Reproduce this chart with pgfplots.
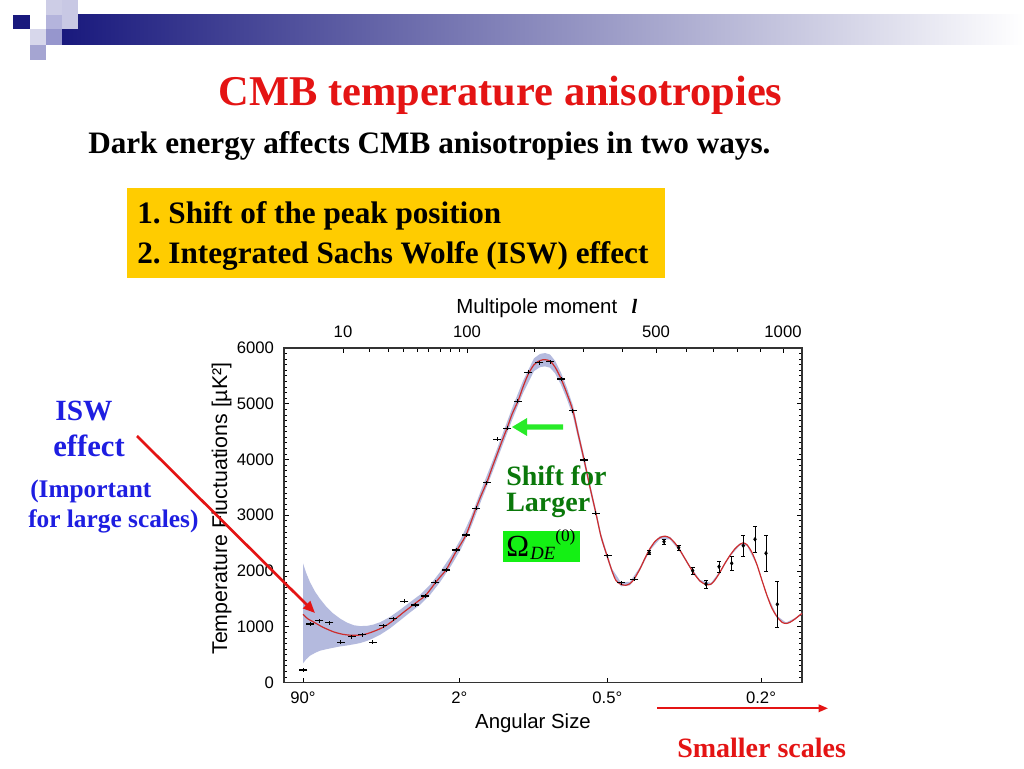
\documentclass[border=0pt]{standalone}
\usepackage{fontspec}
\setmainfont{Liberation Serif}
\newfontfamily\sans{Liberation Sans}
\usepackage{pgfplots}
\pgfplotsset{compat=1.18}
\usetikzlibrary{arrows.meta}
\definecolor{slidered}{RGB}{228,20,20}
\definecolor{iswblue}{RGB}{30,30,225}
\definecolor{darkgreen}{RGB}{10,120,10}
\definecolor{boxyellow}{RGB}{255,204,0}
\definecolor{boxgreen}{RGB}{20,240,20}
\definecolor{arrowgreen}{RGB}{40,235,40}
\definecolor{bandblue}{RGB}{180,186,222}
\definecolor{curvered}{RGB}{205,45,45}
\definecolor{navybar}{RGB}{25,25,125}
\definecolor{sqA}{RGB}{205,205,230}
\definecolor{sqB}{RGB}{200,200,228}
\definecolor{sqC}{RGB}{180,180,220}
\definecolor{sqD}{RGB}{215,215,235}
\definecolor{sqE}{RGB}{150,150,205}
\definecolor{sqF}{RGB}{165,165,210}
\frenchspacing
\begin{document}
\begin{tikzpicture}
\begin{scope}[x=0.75pt,y=0.75pt]
\path[use as bounding box, fill=white] (0,0) rectangle (1024,768);
\shade[left color=navybar, right color=white] (62,753) rectangle (1024,723);
\fill[navybar] (13,753) rectangle (30,739);
\fill[sqA] (46,768) rectangle (62,753);
\fill[sqB] (62,768) rectangle (78,739);
\fill[sqC] (46,753) rectangle (62,739);
\fill[sqD] (30,739) rectangle (46,723);
\fill[sqE] (46,739) rectangle (62,723);
\fill[sqF] (30,723) rectangle (46,708);
\end{scope}

\begin{axis}[
  at={(213pt,64.125pt)}, anchor=south west, scale only axis,
  width=388.5pt, height=250.875pt,
  xmin=284, xmax=802, ymin=0, ymax=6000,
  axis line style={black!80, line width=0.9pt},
  every tick/.style={black, line width=0.6pt},
  tick align=inside,
  major tick length=3.75pt, minor tick length=2pt,
  xtick={303,459.3,607.3,761},
  xticklabels={90°,2°,0.5°,0.2°},
  xtick pos=left, xticklabel pos=left,
  ytick={0,1000,2000,3000,4000,5000,6000},
  minor y tick num=9,
  ytick pos=both, yticklabel pos=left,
  tick label style={font=\fontsize{12.5pt}{14pt}\selectfont\sans},
  /pgf/number format/assume math mode=true,
  /pgf/number format/1000 sep={},
  scaled y ticks=false,
  xticklabel style={yshift=-3.5pt},
  yticklabel style={xshift=-4pt},
]
\addplot[fill=bandblue, draw=none] coordinates {(303,2138)(306,1973)(310,1800)(315,1631)(320,1500)(326,1366)(333,1242)(340,1147)(347,1074)(354,1026)(360,1012)(367,1016)(373,1037)(380,1080)(390,1176)(400,1303)(410,1440)(420,1574)(430,1750)(440,1980)(451,2270)(461,2582)(471,2974)(481,3446)(492,3948)(502,4430)(512,4915)(523,5410)(534,5815)(540,5893)(545,5910)(550,5883)(555,5772)(561,5558)(567,5282)(573,4965)(578,4555)(584,4078)(590,3570)(596,3090)(601,2672)(607,2320)(612,2040)(621,1795)(630,1807)(640,2070)(650,2427)(660,2625)(670,2614)(680,2392)(690,2091)(700,1840)(711,1785)(720,1998)(730,2298)(740,2497)(747,2487)(757,2126)(767,1576)(777,1195)(786,1075)(795,1155)(802,1255)
(802,1225)(795,1125)(786,1045)(777,1165)(767,1544)(757,2094)(747,2453)(740,2463)(730,2262)(720,1962)(711,1745)(700,1800)(690,2049)(680,2348)(670,2566)(660,2575)(650,2373)(640,2010)(630,1743)(621,1725)(612,1960)(607,2230)(601,2568)(596,2970)(590,3430)(584,3922)(578,4385)(573,4775)(567,5078)(561,5342)(555,5548)(550,5647)(545,5670)(540,5657)(534,5585)(523,5190)(512,4705)(502,4230)(492,3752)(481,3254)(471,2786)(461,2398)(451,2090)(440,1800)(430,1570)(420,1394)(410,1256)(400,1113)(390,971)(380,855)(373,792)(367,746)(360,707)(354,686)(347,664)(340,647)(333,622)(326,596)(320,570)(315,531)(310,480)(306,413)(303,343)};
\addplot[curvered, line width=0.9pt, smooth] coordinates {(303,1223)(308,1140)(313,1091)(318,1040)(323,990)(328,950)(333,912)(338,885)(343,864)(348,852)(353,846)(358,848)(363,858)(368,880)(373,912)(378,948)(383,990)(388,1045)(393,1109)(398,1178)(403,1252)(408,1320)(413,1390)(419,1470)(425,1552)(430,1660)(435,1780)(440,1890)(446,2018)(451,2180)(456,2347)(461,2490)(466,2646)(471,2880)(476,3125)(481,3350)(487,3600)(492,3850)(497,4090)(502,4330)(507,4560)(512,4810)(518,5050)(523,5300)(528,5520)(534,5700)(540,5775)(545,5790)(550,5765)(555,5660)(561,5450)(567,5180)(573,4870)(578,4470)(584,4000)(590,3500)(596,3030)(601,2620)(607,2275)(612,2000)(616,1830)(621,1760)(626,1745)(630,1775)(634,1850)(640,2040)(645,2230)(650,2400)(655,2530)(660,2600)(665,2625)(670,2590)(675,2500)(680,2370)(685,2220)(690,2070)(695,1930)(700,1820)(706,1755)(711,1765)(715,1840)(720,1980)(725,2140)(730,2280)(735,2400)(740,2480)(743,2505)(747,2470)(752,2330)(757,2110)(762,1830)(767,1560)(772,1330)(777,1180)(782,1080)(786,1060)(790,1080)(795,1140)(800,1211)(802,1240)};
\addplot[black, only marks, mark=-, mark size=3pt, mark options={line width=1.1pt},
  error bars/.cd, y dir=both, y explicit, error mark=none, error bar style={line width=0.6pt}]
  coordinates {(303.3,224)+-(0,35) (310,1050)+-(0,35) (319.3,1109)+-(0,35) (329.3,1073)+-(0,35) (340.7,721)+-(0,35) (351.7,822)+-(0,35) (362.3,858)+-(0,35) (372.7,721)+-(0,35) (383.3,1019)+-(0,35) (393.3,1145)+-(0,35) (404.3,1457)+-(0,35) (415,1390)+-(0,35) (425.3,1552)+-(0,35) (435.3,1798)+-(0,35) (446,2018)+-(0,35) (456,2377)+-(0,35) (466,2646)+-(0,35) (476,3125)+-(0,35) (486.7,3585)+-(0,35) (497.3,4363)+-(0,35) (507.3,4560)+-(0,35) (517.7,5045)+-(0,35) (528.3,5565)+-(0,35) (539.3,5737)+-(0,35) (550,5755)+-(0,35) (561,5445)+-(0,35) (572.7,4876)+-(0,35) (584,3992)+-(0,35) (595.7,3035)+-(0,35) (607.5,2275)+-(0,35) (621,1791)+-(0,35) (634.3,1851)+-(0,35)};
\addplot[black, only marks, mark=diamond*, mark size=1.4pt,
  error bars/.cd, y dir=both, y explicit, error mark=-, error bar style={line width=0.6pt}]
  coordinates {(649.3,2329)+-(0,35) (664,2526)+-(0,40) (678.7,2418)+-(0,45) (692.7,2006)+-(0,60) (706,1767)+-(0,75) (719,2078)+-(0,105) (731.7,2138)+-(0,130) (743.3,2454)+-(0,185) (755,2569)+-(0,240) (766,2318)+-(0,317) (777.3,1403)+-(0,410)};
\end{axis}

\begin{axis}[
  at={(213pt,64.125pt)}, anchor=south west, scale only axis,
  width=388.5pt, height=250.875pt,
  xmin=284, xmax=802, ymin=0, ymax=6000,
  hide y axis,
  axis line style={black!80, line width=0.9pt},
  every tick/.style={black, line width=0.6pt},
  tick align=inside,
  major tick length=3.75pt, minor tick length=3pt,
  xtick={343,467,656,783}, xticklabels={10,100,500,1000},
  minor xtick={369,388,403,417,428,440,450,459,534,583,622,686,713,737,760},
  xtick pos=right, xticklabel pos=right,
  tick label style={font=\fontsize{12.5pt}{14pt}\selectfont\sans},
  xticklabel style={yshift=4pt},
]
\addplot[draw=none] coordinates {(300,100)(310,200)};
\end{axis}

\begin{scope}[x=0.75pt,y=0.75pt]
\node[anchor=base, font=\fontsize{15.3pt}{18pt}\selectfont\sans] at (533,40) {Angular Size};
\node[anchor=base west, inner sep=0pt, font=\fontsize{15.3pt}{18pt}\selectfont\sans] at (456,454) {Multipole moment\hspace{0.7em}{\rmfamily\bfseries\itshape l}};
\node[rotate=90, anchor=base, font=\fontsize{16pt}{19pt}\selectfont\sans] at (227,259.5) {Temperature Fluctuations [µK²]};

\node[anchor=base, text=slidered, font=\fontsize{31.8pt}{36pt}\selectfont\bfseries] at (500.5,662) {CMB temperature anisotropies};
\node[anchor=base west, inner sep=0pt, font=\fontsize{23.4pt}{28pt}\selectfont\bfseries] at (88,614) {Dark energy affects CMB anisotropies in two ways.};
\fill[boxyellow] (127,490) rectangle (665,580);
\node[anchor=base west, inner sep=0pt, font=\fontsize{23.4pt}{28pt}\selectfont\bfseries] at (137,544) {1. Shift of the peak position};
\node[anchor=base west, inner sep=0pt, font=\fontsize{23.4pt}{28pt}\selectfont\bfseries] at (137,504) {2. Integrated Sachs Wolfe (ISW) effect};

\node[anchor=base, text=iswblue, font=\fontsize{22pt}{26pt}\selectfont\bfseries] at (84,347) {ISW};
\node[anchor=base, text=iswblue, font=\fontsize{23pt}{26pt}\selectfont\bfseries] at (89,311) {effect};
\node[anchor=base west, inner sep=0pt, text=iswblue, font=\fontsize{19pt}{22pt}\selectfont\bfseries] at (30,270) {(Important};
\node[anchor=base west, inner sep=0pt, text=iswblue, font=\fontsize{19pt}{22pt}\selectfont\bfseries] at (28,240) {for large scales)};
\draw[slidered, line width=2pt, -{Triangle[length=9pt,width=7.5pt]}] (137,332) -- (315,155);

\fill[arrowgreen] (563,343.7) -- (527,343.7) -- (527,350) -- (512,341) -- (527,332) -- (527,338.3) -- (563,338.3) -- cycle;
\node[anchor=base west, inner sep=0pt, text=darkgreen, font=\fontsize{21pt}{24pt}\selectfont\bfseries] at (506,282) {Shift for};
\node[anchor=base west, inner sep=0pt, text=darkgreen, font=\fontsize{21pt}{24pt}\selectfont\bfseries] at (506,257) {Larger};
\fill[boxgreen] (503,206) rectangle (580,237);
\node[anchor=base west, inner sep=0pt, font=\fontsize{23pt}{26pt}\selectfont] at (506,212) {Ω};
\node[anchor=base west, inner sep=0pt, font=\fontsize{14pt}{16pt}\selectfont\itshape] at (530,209) {DE};
\node[anchor=base west, inner sep=0pt, font=\fontsize{13pt}{15pt}\selectfont] at (555,227) {(0)};

\draw[slidered, line width=1.5pt, -{Triangle[length=7pt,width=5.5pt]}] (657,59.7) -- (828,59.7);
\node[anchor=base west, inner sep=0pt, text=slidered, font=\fontsize{21pt}{24pt}\selectfont\bfseries] at (677,11) {Smaller scales};
\end{scope}
\end{tikzpicture}
\end{document}
